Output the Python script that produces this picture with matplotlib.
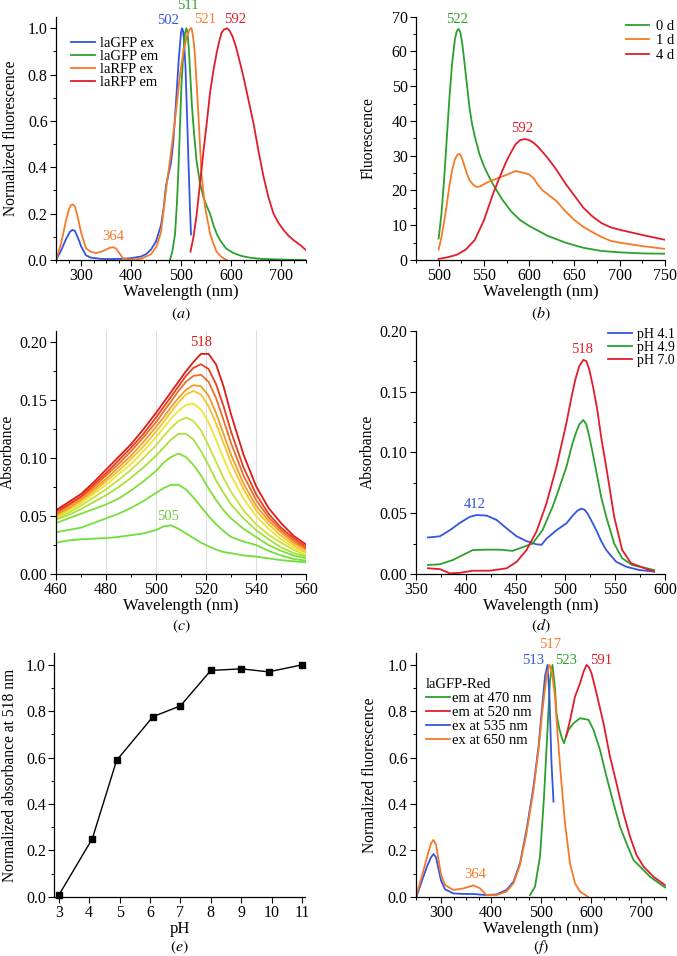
import matplotlib
matplotlib.use("Agg")
import matplotlib.pyplot as plt
from matplotlib.ticker import MultipleLocator, FormatStrFormatter

plt.rcParams['font.family'] = ['Liberation Serif', 'DejaVu Serif']
plt.rcParams['mathtext.fontset'] = 'stix'

# ---------------- Panel (a) ----------------
a_gfp_ex_x = [250, 260, 270, 278, 283, 288, 295, 300, 310, 320, 340, 360, 380, 400, 420, 430, 440, 450,
              460, 465, 470, 475, 480, 485, 490, 495, 498, 500, 502, 504, 506, 509, 512, 515, 518, 520]
a_gfp_ex_y = [0.0, 0.04, 0.09, 0.122, 0.13, 0.125, 0.09, 0.06, 0.02, 0.01, 0.005, 0.004, 0.005, 0.008,
              0.015, 0.025, 0.045, 0.08, 0.15, 0.22, 0.32, 0.37, 0.42, 0.52, 0.68, 0.85, 0.93, 0.98,
              1.0, 0.99, 0.95, 0.83, 0.63, 0.42, 0.22, 0.11]
a_gfp_em_x = [478, 483, 488, 492, 495, 498, 501, 505, 508, 511, 513, 516, 519, 522, 526, 531, 538, 545,
              552, 558, 565, 572, 578, 590, 605, 620, 638, 660, 700, 750]
a_gfp_em_y = [0.0, 0.04, 0.11, 0.25, 0.4, 0.58, 0.76, 0.9, 0.98, 1.0, 0.98, 0.9, 0.78, 0.66, 0.55, 0.43,
              0.33, 0.27, 0.23, 0.2, 0.15, 0.11, 0.086, 0.05, 0.03, 0.018, 0.01, 0.005, 0.002, 0.0]
a_rfp_ex_x = [250, 260, 270, 276, 280, 284, 288, 293, 300, 310, 320, 330, 340, 350, 358, 364, 370, 378,
              385, 400, 420, 440, 451, 460, 471, 478, 485, 491, 498, 505, 511, 516, 519, 521, 523, 526,
              528, 535, 541, 548, 558, 565, 571, 580, 588, 592]
a_rfp_ex_y = [0.0, 0.07, 0.17, 0.22, 0.237, 0.24, 0.23, 0.19, 0.12, 0.05, 0.035, 0.03, 0.035, 0.045,
              0.053, 0.055, 0.05, 0.025, 0.005, 0.002, 0.005, 0.025, 0.058, 0.12, 0.32, 0.43, 0.55, 0.66,
              0.8, 0.9, 0.96, 0.99, 1.0, 1.0, 0.98, 0.93, 0.88, 0.62, 0.37, 0.23, 0.115, 0.07, 0.036,
              0.015, 0.003, 0.0]
a_rfp_em_x = [519, 525, 531, 538, 545, 552, 558, 565, 571, 576, 581, 586, 592, 597, 603, 610, 617, 625,
              635, 645, 655, 665, 675, 685, 695, 705, 715, 725, 738, 750]
a_rfp_em_y = [0.036, 0.1, 0.19, 0.33, 0.47, 0.6, 0.72, 0.82, 0.89, 0.94, 0.98, 0.995, 1.0, 0.99, 0.965,
              0.92, 0.86, 0.79, 0.69, 0.59, 0.47, 0.36, 0.27, 0.2, 0.16, 0.13, 0.105, 0.086, 0.065, 0.043]
a_labels = ['laGFP ex', 'laGFP em', 'laRFP ex', 'laRFP em']

# ---------------- Panel (b) ----------------
b_x0 = [500, 503, 506, 509, 512, 515, 518, 520, 522, 524, 526, 528, 531, 534, 537, 540, 545, 550, 555,
        560, 570, 580, 590, 600, 620, 640, 660, 680, 700, 725, 750]
b_y0 = [6.2, 13, 23, 35, 47, 57, 63.5, 65.8, 66.5, 65.5, 62.5, 58, 51, 44, 39, 35.5, 30.5, 27, 24.3,
        21.8, 17.5, 14, 11.5, 9.8, 7, 5, 3.5, 2.6, 2.2, 1.9, 1.8]
b_x1 = [500, 503, 506, 509, 512, 515, 518, 521, 523, 525, 528, 531, 534, 538, 542, 546, 550, 555, 565,
        575, 585, 595, 600, 605, 610, 615, 620, 630, 640, 650, 660, 670, 680, 690, 700, 725, 750]
b_y1 = [3, 6.5, 11, 16, 21.5, 26, 29, 30.4, 30.5, 29.8, 27.5, 25, 23, 21.7, 21, 21.2, 21.8, 22.5, 23.5,
        24.5, 25.6, 25, 24.6, 23.5, 21.5, 20, 19, 17, 14, 11.5, 9.5, 8, 6.6, 5.5, 5, 4, 3.2]
b_x4 = [500, 510, 520, 530, 540, 550, 560, 570, 575, 580, 585, 590, 595, 600, 605, 610, 620, 630, 640,
        650, 660, 670, 680, 690, 700, 725, 750]
b_y4 = [0.3, 0.8, 1.5, 3.0, 5.8, 11.4, 19, 25.5, 28.5, 31, 33.3, 34.5, 34.8, 34.5, 33.7, 32.5, 29.5,
        26, 22, 18.5, 15, 12.5, 10.6, 9.4, 8.7, 7.2, 5.8]
b_labels = ['0 d', '1 d', '4 d']

# ---------------- Panel (c) ----------------
c_x = [460, 465, 470, 475, 480, 485, 490, 495, 500, 503, 506, 509, 512, 515, 518, 521, 524, 527, 530,
       535, 540, 545, 550, 555, 560]
c_series = [
    [.027, .029, .030, .0305, .031, .032, .0335, .035, .038, .041, .042, .039, .035, .031, .027, .024, .021, .019, .018, .016, .015, .0135, .012, .011, .010],
    [.036, .038, .040, .044, .048, .052, .057, .063, .070, .074, .077, .077, .073, .066, .058, .050, .043, .037, .032, .028, .025, .020, .016, .013, .0115],
    [.044, .048, .052, .056, .060, .065, .072, .080, .089, .096, .101, .104, .101, .094, .085, .074, .064, .055, .048, .039, .032, .025, .020, .016, .0135],
    [.047, .051, .056, .062, .068, .075, .083, .092, .102, .109, .116, .121, .121, .116, .106, .094, .081, .070, .060, .048, .038, .030, .023, .018, .015],
    [.048, .053, .059, .066, .073, .081, .090, .100, .111, .119, .126, .132, .135, .132, .124, .111, .097, .083, .071, .055, .043, .034, .027, .021, .016],
    [.049, .055, .061, .069, .077, .086, .095, .106, .118, .126, .134, .141, .146, .147, .142, .131, .116, .100, .085, .065, .050, .039, .030, .023, .018],
    [.050, .056, .063, .071, .080, .089, .099, .110, .123, .131, .140, .148, .155, .158, .155, .145, .130, .113, .096, .073, .055, .043, .033, .025, .019],
    [.051, .057, .064, .073, .082, .092, .102, .114, .127, .135, .144, .152, .159, .163, .162, .154, .139, .121, .103, .078, .059, .046, .036, .027, .021],
    [.052, .059, .066, .075, .085, .095, .106, .118, .131, .140, .149, .158, .166, .171, .172, .166, .152, .133, .113, .085, .064, .049, .038, .029, .022],
    [.054, .060, .067, .077, .087, .098, .109, .121, .135, .144, .153, .162, .171, .178, .181, .177, .164, .145, .123, .092, .069, .052, .040, .031, .0235],
    [.055, .062, .069, .079, .090, .101, .112, .125, .139, .148, .157, .166, .175, .183, .190, .190, .181, .162, .138, .103, .076, .057, .044, .033, .0255],
]
c_colors = ['#6ee03a', '#72e03a', '#80df36', '#a6e03a', '#c6e23a', '#eee436', '#f6c42a',
            '#f29a2a', '#ee6e26', '#e8401f', '#e01a14']

# ---------------- Panel (d) ----------------
d_x41 = [362, 374, 384, 394, 404, 411, 421, 431, 441, 451, 461, 471, 476, 481, 491, 501, 507, 512,
         516, 519, 522, 526, 531, 536, 541, 551, 561, 574, 589]
d_y41 = [0.030, 0.031, 0.036, 0.042, 0.047, 0.0485, 0.048, 0.0444, 0.0375, 0.031, 0.027, 0.0244,
         0.024, 0.029, 0.036, 0.0416, 0.0477, 0.052, 0.0537, 0.053, 0.050, 0.044, 0.036, 0.027,
         0.0197, 0.010, 0.006, 0.0033, 0.002]
d_x49 = [362, 374, 387, 397, 407, 421, 434, 447, 457, 467, 477, 487, 491, 501, 507, 511, 514, 518,
         521, 524, 528, 532, 536, 541, 549, 557, 567, 589]
d_y49 = [0.0074, 0.008, 0.0115, 0.0156, 0.0197, 0.020, 0.020, 0.019, 0.022, 0.025, 0.036, 0.055,
         0.064, 0.088, 0.107, 0.117, 0.123, 0.1266, 0.123, 0.113, 0.097, 0.080, 0.063, 0.047, 0.025,
         0.013, 0.0074, 0.0033]
d_x70 = [362, 374, 384, 394, 407, 424, 441, 451, 461, 471, 481, 491, 501, 506, 510, 514, 518, 521,
         524, 528, 532, 536, 541, 549, 557, 566, 589]
d_y70 = [0.0047, 0.004, 0.0005, 0.001, 0.0027, 0.0027, 0.0047, 0.010, 0.0197, 0.035, 0.058, 0.088,
         0.124, 0.145, 0.160, 0.171, 0.176, 0.175, 0.168, 0.153, 0.135, 0.112, 0.088, 0.047, 0.0197,
         0.0088, 0.002]
d_labels = ['pH 4.1', 'pH 4.9', 'pH 7.0']

# ---------------- Panel (e) ----------------
e_ph = [3.0, 4.1, 4.9, 6.1, 7.0, 8.0, 9.0, 9.9, 11.0]
e_abs = [0.007, 0.25, 0.588, 0.777, 0.823, 0.976, 0.983, 0.970, 1.0]

# ---------------- Panel (f) ----------------
f_em470_x = [478, 488, 498, 506, 513, 518, 523, 528, 531, 536, 541, 546, 550, 555, 565, 578, 595,
             605, 618, 631, 645, 658, 671, 685, 698, 718, 748]
f_em470_y = [0.007, 0.043, 0.173, 0.43, 0.72, 0.935, 1.0, 0.9, 0.79, 0.73, 0.69, 0.662, 0.69, 0.72,
             0.748, 0.77, 0.763, 0.72, 0.633, 0.518, 0.403, 0.302, 0.23, 0.158, 0.13, 0.086, 0.04]
f_em520_x = [550, 558, 568, 578, 585, 591, 596, 601, 611, 625, 638, 651, 665, 678, 691, 705, 725, 748]
f_em520_y = [0.69, 0.76, 0.863, 0.92, 0.97, 1.0, 0.99, 0.964, 0.878, 0.748, 0.604, 0.489, 0.36, 0.259,
             0.18, 0.13, 0.086, 0.05]
f_ex535_x = [251, 262, 272, 280, 285, 290, 295, 300, 308, 325, 345, 365, 391, 411, 431, 445, 458, 471,
             485, 495, 503, 508, 513, 517, 521, 525]
f_ex535_y = [0.0, 0.07, 0.13, 0.17, 0.184, 0.17, 0.12, 0.07, 0.032, 0.014, 0.012, 0.0115, 0.007, 0.01,
             0.029, 0.065, 0.144, 0.288, 0.475, 0.647, 0.834, 0.95, 1.0, 0.86, 0.575, 0.41]
f_ex650_x = [250, 262, 272, 280, 285, 290, 295, 300, 308, 325, 345, 365, 378, 391, 411, 431, 445, 458,
             471, 485, 495, 503, 511, 517, 522, 528, 534, 541, 548, 558, 568, 578, 594]
f_ex650_y = [0.0, 0.09, 0.17, 0.23, 0.245, 0.225, 0.16, 0.095, 0.05, 0.029, 0.036, 0.049, 0.036, 0.007,
             0.007, 0.022, 0.058, 0.137, 0.273, 0.46, 0.633, 0.806, 0.95, 1.0, 0.97, 0.863, 0.676,
             0.489, 0.317, 0.144, 0.058, 0.022, 0.0]
f_labels = ['em at 470 nm', 'em at 520 nm', 'ex at 535 nm', 'ex at 650 nm']

BLUE = '#3355e0'
GREEN = '#2ca02c'
ORANGE = '#f57a28'
RED = '#e21c2a'

TICK_FS = 11.5
XLABEL_FS = 12
YLABEL_FS = 11.2
ANN_FS = 10.5
LEG_FS = 10.5

fig = plt.figure(figsize=(6.77, 9.56), dpi=100)
W, H = 677.0, 956.0


def make_ax(l, r, b, t):
    ax = fig.add_axes([l / W, 1 - b / H, (r - l) / W, (b - t) / H])
    for s in ['top', 'right']:
        ax.spines[s].set_visible(False)
    for s in ['left', 'bottom']:
        ax.spines[s].set_linewidth(0.9)
    ax.tick_params(which='major', direction='out', length=4, width=0.8, labelsize=TICK_FS, pad=2)
    ax.tick_params(which='minor', direction='out', length=2.5, width=0.7)
    return ax


def sublabel(ax, letter, ypix):
    pos = ax.get_position()
    fig.text((pos.x0 + pos.x1) / 2, 1 - ypix / H, r'$(\mathit{%s})$' % letter,
             ha='center', va='center', fontsize=11.5)


lw = 1.3

# (a)
ax = make_ax(56, 306, 260, 16.7)
ax.plot(a_gfp_ex_x, a_gfp_ex_y, color=BLUE, lw=lw, label=a_labels[0])
ax.plot(a_gfp_em_x, a_gfp_em_y, color=GREEN, lw=lw, label=a_labels[1])
ax.plot(a_rfp_ex_x, a_rfp_ex_y, color=ORANGE, lw=lw, label=a_labels[2])
ax.plot(a_rfp_em_x, a_rfp_em_y, color=RED, lw=lw, label=a_labels[3])
ax.set_xlim(250, 750)
ax.set_ylim(0, 1.05)
ax.set_xticks([300, 400, 500, 600, 700])
ax.xaxis.set_minor_locator(MultipleLocator(25))
ax.yaxis.set_major_locator(MultipleLocator(0.2))
ax.yaxis.set_minor_locator(MultipleLocator(0.1))
ax.yaxis.set_major_formatter(FormatStrFormatter('%.1f'))
ax.set_xlabel('Wavelength (nm)', fontsize=XLABEL_FS, labelpad=0)
ax.set_ylabel('Normalized fluorescence', fontsize=YLABEL_FS, labelpad=6)
ax.legend(loc='upper left', bbox_to_anchor=(0.02, 0.96), frameon=False, fontsize=LEG_FS,
          handlelength=1.6, handletextpad=0.4, labelspacing=0.0, borderpad=0.2)
ax.text(474, 1.033, '502', color=BLUE, fontsize=ANN_FS, ha='center', va='center', clip_on=False)
ax.text(513, 1.10, '511', color=GREEN, fontsize=ANN_FS, ha='center', va='center', clip_on=False)
ax.text(548, 1.036, '521', color=ORANGE, fontsize=ANN_FS, ha='center', va='center', clip_on=False)
ax.text(608, 1.036, '592', color=RED, fontsize=ANN_FS, ha='center', va='center', clip_on=False)
ax.text(364, 0.10, '364', color=ORANGE, fontsize=ANN_FS, ha='center', va='center')
sublabel(ax, 'a', 314)

# (b)
ax = make_ax(416, 665, 260, 16.7)
ax.plot(b_x0, b_y0, color=GREEN, lw=lw, label=b_labels[0])
ax.plot(b_x1, b_y1, color=ORANGE, lw=lw, label=b_labels[1])
ax.plot(b_x4, b_y4, color=RED, lw=lw, label=b_labels[2])
ax.set_xlim(475, 750)
ax.set_ylim(0, 70)
ax.set_xticks([500, 550, 600, 650, 700, 750])
ax.xaxis.set_minor_locator(MultipleLocator(25))
ax.yaxis.set_major_locator(MultipleLocator(10))
ax.yaxis.set_minor_locator(MultipleLocator(5))
ax.set_xlabel('Wavelength (nm)', fontsize=XLABEL_FS, labelpad=0)
ax.set_ylabel('Fluorescence', fontsize=YLABEL_FS, labelpad=11)
ax.legend(loc='upper right', bbox_to_anchor=(1.08, 1.03), frameon=False, fontsize=LEG_FS,
          handlelength=1.6, handletextpad=0.5, labelspacing=0.1, borderpad=0.2)
ax.text(520.6, 69.3, '522', color=GREEN, fontsize=ANN_FS, ha='center', va='center', clip_on=False)
ax.text(592.4, 37.9, '592', color=RED, fontsize=ANN_FS, ha='center', va='center')
sublabel(ax, 'b', 314)

# (c)
ax = make_ax(56, 306, 574, 330.7)
for xv in [480, 500, 520, 540]:
    ax.axvline(xv, color='#dcdcdc', lw=0.8, zorder=0)
for ys, col in zip(c_series, c_colors):
    ax.plot(c_x, ys, color=col, lw=lw)
ax.set_xlim(460, 560)
ax.set_ylim(0, 0.21)
ax.xaxis.set_major_locator(MultipleLocator(20))
ax.xaxis.set_minor_locator(MultipleLocator(10))
ax.set_yticks([0, 0.05, 0.10, 0.15, 0.20])
ax.yaxis.set_minor_locator(MultipleLocator(0.025))
ax.yaxis.set_major_formatter(FormatStrFormatter('%.2f'))
ax.set_xlabel('Wavelength (nm)', fontsize=XLABEL_FS, labelpad=0)
ax.set_ylabel('Absorbance', fontsize=YLABEL_FS, labelpad=3)
ax.text(518, 0.200, '518', color='#e01a14', fontsize=ANN_FS, ha='center', va='center')
ax.text(505, 0.050, '505', color='#6ecf3a', fontsize=ANN_FS, ha='center', va='center')
sublabel(ax, 'c', 626)

# (d)
ax = make_ax(416, 665, 574, 330.7)
ax.plot(d_x41, d_y41, color=BLUE, lw=lw, label=d_labels[0])
ax.plot(d_x49, d_y49, color=GREEN, lw=lw, label=d_labels[1])
ax.plot(d_x70, d_y70, color=RED, lw=lw, label=d_labels[2])
ax.set_xlim(350, 600)
ax.set_ylim(0, 0.20)
ax.xaxis.set_major_locator(MultipleLocator(50))
ax.xaxis.set_minor_locator(MultipleLocator(25))
ax.set_yticks([0, 0.05, 0.10, 0.15, 0.20])
ax.yaxis.set_minor_locator(MultipleLocator(0.025))
ax.yaxis.set_major_formatter(FormatStrFormatter('%.2f'))
ax.set_xlabel('Wavelength (nm)', fontsize=XLABEL_FS, labelpad=0)
ax.set_ylabel('Absorbance', fontsize=YLABEL_FS, labelpad=3)
ax.legend(loc='upper right', bbox_to_anchor=(1.08, 1.05), frameon=False, fontsize=10,
          handlelength=1.7, handletextpad=0.4, labelspacing=0.0, borderpad=0.2)
ax.text(409, 0.0575, '412', color=BLUE, fontsize=ANN_FS, ha='center', va='center')
ax.text(516.7, 0.1847, '518', color=RED, fontsize=ANN_FS, ha='center', va='center')
sublabel(ax, 'd', 626)

# (e)
ax = make_ax(54.3, 305, 896.7, 653.3)
ax.plot(e_ph, e_abs, color='black', lw=1.0, marker='s', ms=4.5, clip_on=False, zorder=3)
ax.set_xlim(2.85, 11.1)
ax.set_ylim(0, 1.05)
ax.set_xticks(range(3, 12))
ax.yaxis.set_major_locator(MultipleLocator(0.2))
ax.yaxis.set_minor_locator(MultipleLocator(0.1))
ax.yaxis.set_major_formatter(FormatStrFormatter('%.1f'))
ax.set_xlabel('pH', fontsize=XLABEL_FS, labelpad=0)
ax.set_ylabel('Normalized absorbance at 518 nm', fontsize=YLABEL_FS, labelpad=6)
sublabel(ax, 'e', 947)

# (f)
ax = make_ax(416, 666, 896.7, 653.3)
h1, = ax.plot(f_em470_x, f_em470_y, color=GREEN, lw=lw, label=f_labels[0])
h2, = ax.plot(f_em520_x, f_em520_y, color=RED, lw=lw, label=f_labels[1])
h3, = ax.plot(f_ex535_x, f_ex535_y, color=BLUE, lw=lw, label=f_labels[2])
h4, = ax.plot(f_ex650_x, f_ex650_y, color=ORANGE, lw=lw, label=f_labels[3])
ax.set_xlim(250, 750)
ax.set_ylim(0, 1.05)
ax.set_xticks([300, 400, 500, 600, 700])
ax.xaxis.set_minor_locator(MultipleLocator(25))
ax.yaxis.set_major_locator(MultipleLocator(0.2))
ax.yaxis.set_minor_locator(MultipleLocator(0.1))
ax.yaxis.set_major_formatter(FormatStrFormatter('%.1f'))
ax.set_xlabel('Wavelength (nm)', fontsize=XLABEL_FS, labelpad=0)
ax.set_ylabel('Normalized fluorescence', fontsize=YLABEL_FS, labelpad=7)
leg = ax.legend(handles=[h1, h2, h3, h4], loc='upper left', bbox_to_anchor=(0.0, 0.94),
                frameon=False, fontsize=LEG_FS, title='laGFP-Red', title_fontsize=LEG_FS,
                handlelength=1.6, handletextpad=0.2, labelspacing=0.05, borderpad=0.2)
leg._legend_box.align = 'left'
ax.text(518, 1.086, '517', color=ORANGE, fontsize=ANN_FS, ha='center', va='center', clip_on=False)
ax.text(484.7, 1.02, '513', color=BLUE, fontsize=ANN_FS, ha='center', va='center', clip_on=False)
ax.text(550, 1.02, '523', color=GREEN, fontsize=ANN_FS, ha='center', va='center', clip_on=False)
ax.text(621, 1.02, '591', color=RED, fontsize=ANN_FS, ha='center', va='center', clip_on=False)
ax.text(368, 0.097, '364', color=ORANGE, fontsize=ANN_FS, ha='center', va='center')
sublabel(ax, 'f', 947)

fig.savefig('out.png', dpi=100)
